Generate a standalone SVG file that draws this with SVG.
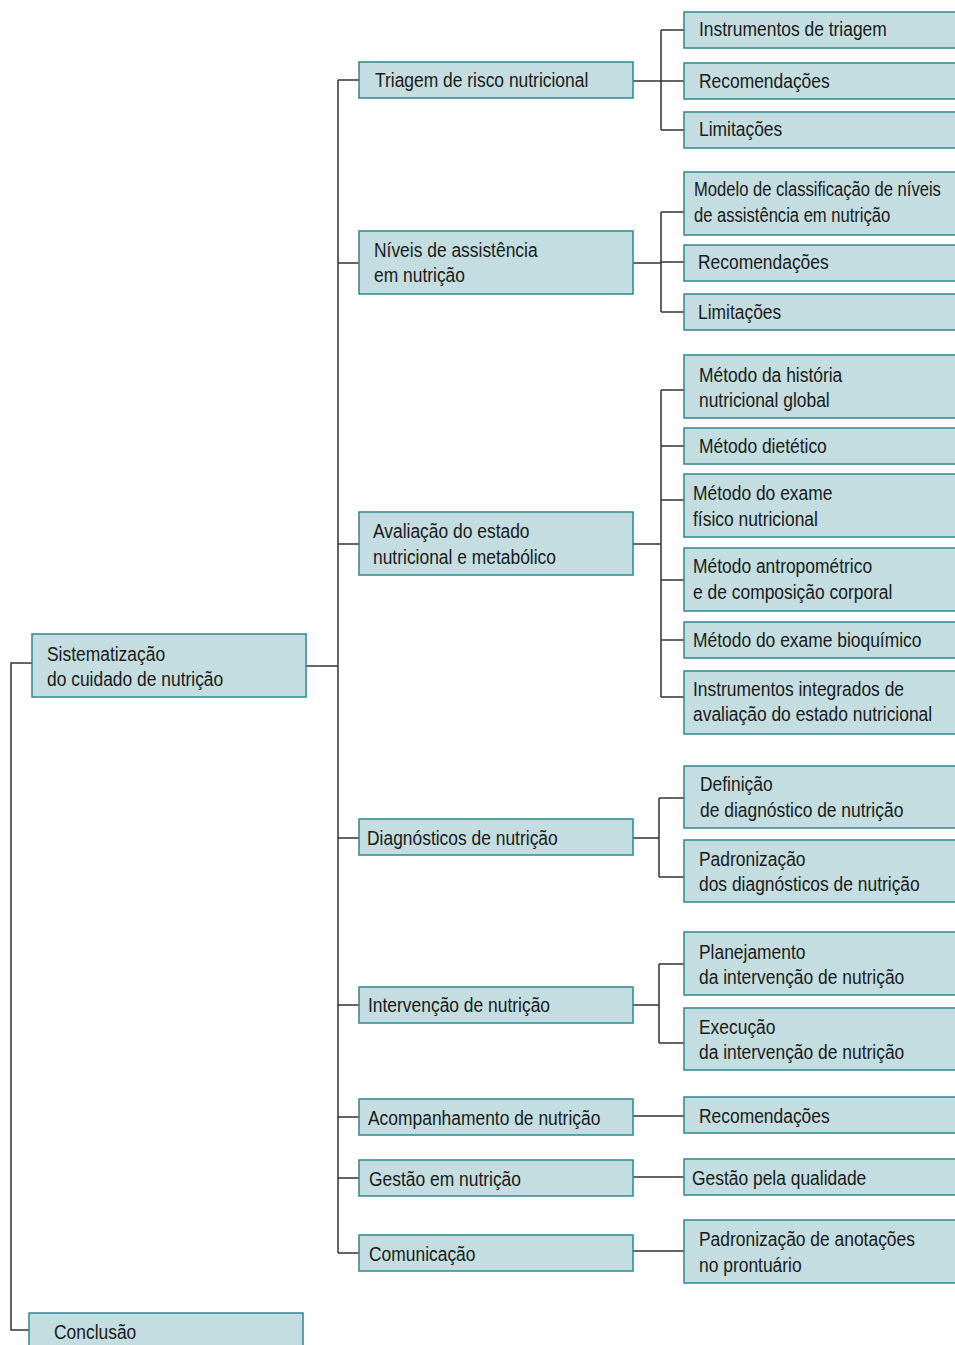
<svg xmlns="http://www.w3.org/2000/svg" width="955" height="1345" viewBox="0 0 955 1345">
<style>
.box{fill:#c3dde0;stroke:#2e8791;stroke-width:1.5}
.t{font-family:"Liberation Sans",Arial,sans-serif;font-size:21px;fill:#1a1a1a}
.c{fill:none;stroke:#333;stroke-width:1.5}
</style>
<rect width="955" height="1345" fill="#fff"/>
<g id="connectors">
<path class="c" d="M32,663H11V1330H29"/>
<path class="c" d="M306,666H338M338,80V1253M338,80H359M338,263H359M338,544H359M338,838H359M338,1005H359M338,1117H359M338,1178H359M338,1253H359"/>
<path class="c" d="M633,81H661M661,30V130M661,30H684M661,81H684M661,130H684"/>
<path class="c" d="M633,263H661M661,212V312M661,212H684M661,262H684M661,312H684"/>
<path class="c" d="M633,544H661M661,390V697M661,390H684M661,446H684M661,500H684M661,580H684M661,640H684M661,697H684"/>
<path class="c" d="M633,838H659M659,798V877M659,798H684M659,877H684"/>
<path class="c" d="M633,1005H659M659,964V1043M659,964H684M659,1043H684"/>
<path class="c" d="M633,1116H684M633,1177H684M633,1251H684"/>
</g>
<g id="root"><rect class="box" x="32" y="634" width="274" height="63"/><g class="t" transform="translate(47,661) scale(0.83,1)"><text y="0">Sistematização</text><text y="25">do cuidado de nutrição</text></g></g>
<g id="conclusao"><rect class="box" x="29" y="1313" width="274" height="45"/><g class="t" transform="translate(54,1339) scale(0.83,1)"><text>Conclusão</text></g></g>
<g id="triagem"><rect class="box" x="359" y="62" width="274" height="36"/><g class="t" transform="translate(375,87) scale(0.83,1)"><text>Triagem de risco nutricional</text></g></g>
<g id="niveis"><rect class="box" x="359" y="231" width="274" height="63"/><g class="t" transform="translate(374,257) scale(0.83,1)"><text y="0">Níveis de assistência</text><text y="25">em nutrição</text></g></g>
<g id="avaliacao"><rect class="box" x="359" y="512" width="274" height="63"/><g class="t" transform="translate(373,538) scale(0.83,1)"><text y="0">Avaliação do estado</text><text y="26">nutricional e metabólico</text></g></g>
<g id="diagnosticos"><rect class="box" x="359" y="819" width="274" height="36"/><g class="t" transform="translate(367,845) scale(0.83,1)"><text>Diagnósticos de nutrição</text></g></g>
<g id="intervencao"><rect class="box" x="359" y="987" width="274" height="36"/><g class="t" transform="translate(368,1012) scale(0.83,1)"><text>Intervenção de nutrição</text></g></g>
<g id="acompanhamento"><rect class="box" x="359" y="1099" width="274" height="36"/><g class="t" transform="translate(368,1125) scale(0.83,1)"><text>Acompanhamento de nutrição</text></g></g>
<g id="gestao"><rect class="box" x="359" y="1160" width="274" height="36"/><g class="t" transform="translate(369,1186) scale(0.83,1)"><text>Gestão em nutrição</text></g></g>
<g id="comunicacao"><rect class="box" x="359" y="1235" width="274" height="36"/><g class="t" transform="translate(369,1261) scale(0.83,1)"><text>Comunicação</text></g></g>
<g id="r1a"><rect class="box" x="684" y="12" width="290" height="36"/><g class="t" transform="translate(699,36) scale(0.83,1)"><text>Instrumentos de triagem</text></g></g>
<g id="r1b"><rect class="box" x="684" y="63" width="290" height="36"/><g class="t" transform="translate(699,88) scale(0.83,1)"><text>Recomendações</text></g></g>
<g id="r1c"><rect class="box" x="684" y="112" width="290" height="36"/><g class="t" transform="translate(699,136) scale(0.83,1)"><text>Limitações</text></g></g>
<g id="r2a"><rect class="box" x="684" y="172" width="290" height="63"/><g class="t" transform="translate(694,196) scale(0.79,1)"><text y="0">Modelo de classificação de níveis</text><text y="26">de assistência em nutrição</text></g></g>
<g id="r2b"><rect class="box" x="684" y="245" width="290" height="36"/><g class="t" transform="translate(698,269) scale(0.83,1)"><text>Recomendações</text></g></g>
<g id="r2c"><rect class="box" x="684" y="294" width="290" height="36"/><g class="t" transform="translate(698,319) scale(0.83,1)"><text>Limitações</text></g></g>
<g id="r3a"><rect class="box" x="684" y="355" width="290" height="63"/><g class="t" transform="translate(699,382) scale(0.83,1)"><text y="0">Método da história</text><text y="25">nutricional global</text></g></g>
<g id="r3b"><rect class="box" x="684" y="428" width="290" height="36"/><g class="t" transform="translate(699,453) scale(0.83,1)"><text>Método dietético</text></g></g>
<g id="r3c"><rect class="box" x="684" y="474" width="290" height="63"/><g class="t" transform="translate(693,500) scale(0.83,1)"><text y="0">Método do exame</text><text y="26">físico nutricional</text></g></g>
<g id="r3d"><rect class="box" x="684" y="548" width="290" height="63"/><g class="t" transform="translate(693,573) scale(0.83,1)"><text y="0">Método antropométrico</text><text y="26">e de composição corporal</text></g></g>
<g id="r3e"><rect class="box" x="684" y="622" width="290" height="36"/><g class="t" transform="translate(693,647) scale(0.83,1)"><text>Método do exame bioquímico</text></g></g>
<g id="r3f"><rect class="box" x="684" y="671" width="290" height="63"/><g class="t" transform="translate(693,696) scale(0.83,1)"><text y="0">Instrumentos integrados de</text><text y="25">avaliação do estado nutricional</text></g></g>
<g id="r4a"><rect class="box" x="684" y="766" width="290" height="62"/><g class="t" transform="translate(700,791) scale(0.83,1)"><text y="0">Definição</text><text y="26">de diagnóstico de nutrição</text></g></g>
<g id="r4b"><rect class="box" x="684" y="840" width="290" height="62"/><g class="t" transform="translate(699,866) scale(0.83,1)"><text y="0">Padronização</text><text y="25">dos diagnósticos de nutrição</text></g></g>
<g id="r5a"><rect class="box" x="684" y="932" width="290" height="63"/><g class="t" transform="translate(699,959) scale(0.83,1)"><text y="0">Planejamento</text><text y="25">da intervenção de nutrição</text></g></g>
<g id="r5b"><rect class="box" x="684" y="1008" width="290" height="62"/><g class="t" transform="translate(699,1034) scale(0.83,1)"><text y="0">Execução</text><text y="25">da intervenção de nutrição</text></g></g>
<g id="r6"><rect class="box" x="684" y="1097" width="290" height="36"/><g class="t" transform="translate(699,1123) scale(0.83,1)"><text>Recomendações</text></g></g>
<g id="r7"><rect class="box" x="684" y="1159" width="290" height="36"/><g class="t" transform="translate(692,1185) scale(0.83,1)"><text>Gestão pela qualidade</text></g></g>
<g id="r8"><rect class="box" x="684" y="1220" width="290" height="63"/><g class="t" transform="translate(699,1246) scale(0.83,1)"><text y="0">Padronização de anotações</text><text y="26">no prontuário</text></g></g>
</svg>
